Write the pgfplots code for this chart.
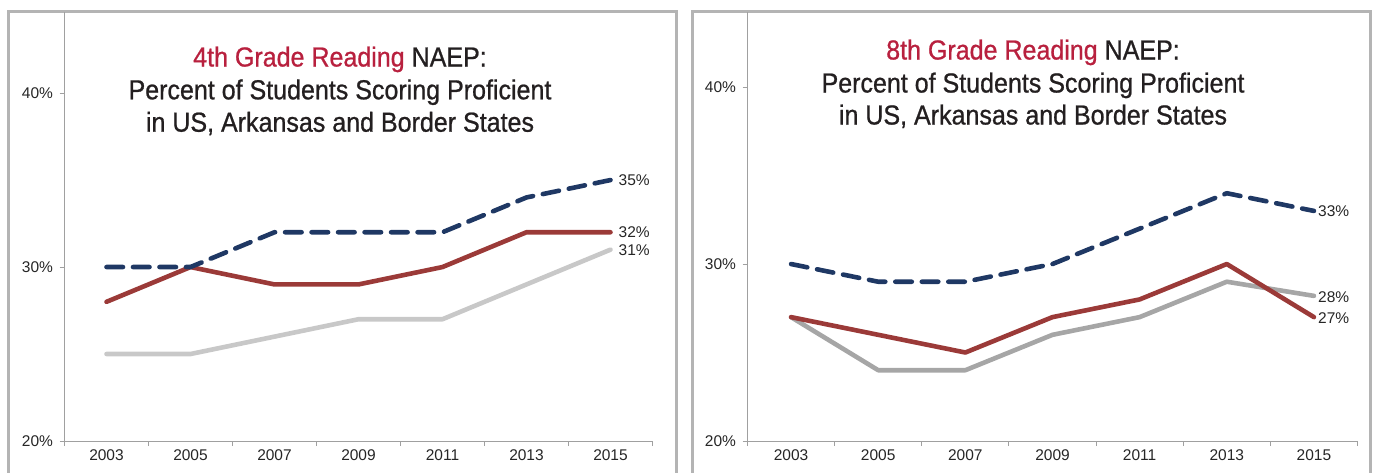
\documentclass[border=0pt]{standalone}
\usepackage{pgfplots}
\pgfplotsset{compat=1.18}
\usepackage{pgfplotstable}
\usepackage{fontspec}
\setmainfont{Liberation Sans}
\newfontfamily\titlefont[FakeStretch=0.91,FakeBold=0.8]{Liberation Sans}
\definecolor{navy}{HTML}{1F3864}
\definecolor{dred}{HTML}{9B3A38}
\definecolor{lgrey}{HTML}{C8C8C8}
\definecolor{mgrey}{HTML}{A6A6A6}
\definecolor{titlered}{HTML}{B8203E}
\definecolor{titledark}{HTML}{231F20}
\definecolor{axgrey}{HTML}{A0A0A0}
\definecolor{bordergrey}{HTML}{B4B4B4}
\definecolor{lbl}{HTML}{262626}

\pgfplotstableread{
x dash red grey
0 30 28 25
1 30 30 25
2 32 29 26
3 32 29 27
4 32 30 27
5 34 32 29
6 35 32 31
}\fourth
\pgfplotstableread{
x dash red grey
0 30 27 27
1 29 26 24
2 29 25 24
3 30 27 26
4 32 28 27
5 34 30 29
6 33 27 28.2
}\eighth

\tikzset{
  dashline/.style={navy, line width=4.6bp, line cap=round, line join=round, dash pattern=on 16.5bp off 10bp},
  redline/.style={dred, line width=4.6bp, line cap=round, line join=round},
  endlbl/.style={anchor=west, font=\fontsize{15.5bp}{15.5bp}\selectfont, text=lbl, inner sep=0pt},
}
\pgfplotsset{
  panel/.style={
    scale only axis,
    anchor=south west,
    height=429bp,
    xmin=-0.5, xmax=6.5,
    ymin=20,
    axis x line*=bottom,
    axis y line*=left,
    axis line style={draw=axgrey, line width=0.9bp},
    xtick={-0.5,0.5,...,6.5},
    x tick label as interval,
    xticklabels={2003,2005,2007,2009,2011,2013,2015},
    ytick={20,30,40},
    yticklabels={20\%,30\%,40\%},
    tick align=outside,
    major tick length=5bp,
    tick style={draw=axgrey, line width=0.9bp},
    /pgf/number format/assume math mode=true,
    ticklabel style={font=\fontsize{15.5bp}{15.5bp}\selectfont, text=lbl},
    yticklabel style={xshift=-3bp},
    clip=false,
  },
}

\begin{document}
\begin{tikzpicture}
\useasboundingbox (0bp,0bp) rectangle (1374bp,-473bp);
\draw[bordergrey, line width=2.5bp] (8.5bp,-520bp) -- (8.5bp,-11.5bp) -- (676.5bp,-11.5bp) -- (676.5bp,-520bp);
\draw[bordergrey, line width=2.5bp] (692.5bp,-520bp) -- (692.5bp,-11.5bp) -- (1370.5bp,-11.5bp) -- (1370.5bp,-520bp);

\begin{axis}[panel, at={(64.5bp,-441bp)}, width=588bp, ymax=44.66]
\addplot[redline] table[x=x, y=red] {\fourth};
\addplot[lgrey, line width=4.6bp, line cap=round, line join=round] table[x=x, y=grey] {\fourth};
\addplot[dashline] table[x=x, y=dash] {\fourth};
\node[endlbl] at (axis cs:6,35) [xshift=8bp] {35\%};
\node[endlbl] at (axis cs:6,32) [xshift=8bp, yshift=0.5bp] {32\%};
\node[endlbl] at (axis cs:6,31) [xshift=8bp, yshift=-1bp] {31\%};
\end{axis}

\begin{axis}[panel, at={(747.5bp,-441bp)}, width=610bp, ymax=44.24]
\addplot[mgrey, line width=4.6bp, line cap=round, line join=round] table[x=x, y=grey] {\eighth};
\addplot[redline] table[x=x, y=red] {\eighth};
\addplot[dashline] table[x=x, y=dash] {\eighth};
\node[endlbl] at (axis cs:6,33) [xshift=4bp] {33\%};
\node[endlbl] at (axis cs:6,28.2) [xshift=4bp, yshift=-1bp] {28\%};
\node[endlbl] at (axis cs:6,27) [xshift=4bp, yshift=-1bp] {27\%};
\end{axis}

\begin{scope}[every node/.style={anchor=base, inner sep=0pt, text=titledark, font=\titlefont\fontsize{27.5bp}{32.5bp}\selectfont}]
\node at (340bp,-66.5bp) {\textcolor{titlered}{4th Grade Reading} NAEP:};
\node at (340bp,-99.3bp) {Percent of Students Scoring Proficient};
\node at (340bp,-131.7bp) {in US, Arkansas and Border States};
\node at (1033bp,-59.5bp) {\textcolor{titlered}{8th Grade Reading} NAEP:};
\node at (1033bp,-92.5bp) {Percent of Students Scoring Proficient};
\node at (1033bp,-124.5bp) {in US, Arkansas and Border States};
\end{scope}
\end{tikzpicture}
\end{document}
